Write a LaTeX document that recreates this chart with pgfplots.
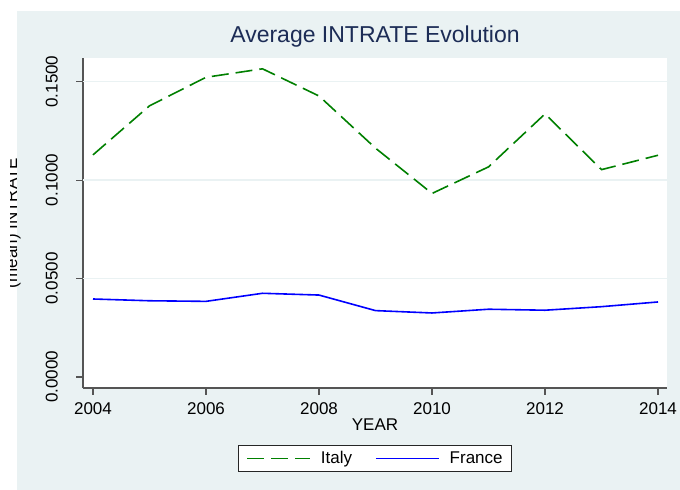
\documentclass[border=0pt]{standalone}
\usepackage{pgfplots}
\pgfplotsset{compat=1.18}
\usepackage{fontspec}
\setmainfont{Liberation Sans}

\definecolor{panel}{RGB}{234,242,243}
\definecolor{titlenavy}{RGB}{28,44,86}
\definecolor{axgray}{RGB}{85,85,85}
\definecolor{stgreen}{RGB}{0,128,0}
\definecolor{stblue}{RGB}{0,0,255}

\newcommand{\med}{\fontsize{17bp}{20bp}\selectfont}

\begin{document}
\begin{tikzpicture}[x=1bp,y=1bp]
\useasboundingbox (0,0) rectangle (680,490);
\fill[white] (0,0) rectangle (680,490);
\fill[panel] (17,0) rectangle (680,479);
\begin{axis}[
    at={(83bp,102bp)}, anchor=south west,
    scale only axis, width=584bp, height=330bp,
    xmin=2003.823, xmax=2014.159,
    ymin=-0.0056, ymax=0.1620,
    axis background/.style={fill=white},
    axis x line*=bottom, axis y line*=left,
    axis line style={axgray, line width=1.1bp, -},
    tick align=outside,
    major tick length=7bp,
    tick style={axgray, line width=1.1bp},
    xtick={2004,2006,2008,2010,2012,2014},
    ytick={0,0.05,0.10,0.15},
    extra y ticks={0.05,0.10,0.15},
    extra y tick labels={},
    extra y tick style={grid=major, major tick length=0pt},
    grid style={panel, line width=1.2bp},
    /pgf/number format/assume math mode=true,
    ticklabel style={font=\med, text=black},
    xticklabel style={/pgf/number format/1000 sep={}, anchor=north, inner sep=0bp, yshift=-7bp},
    yticklabel style={/pgf/number format/.cd, fixed, fixed zerofill, precision=4,
        /tikz/.cd, rotate=90, anchor=south, inner sep=0bp},
    yticklabel shift=18bp,
    title={Average INTRATE Evolution},
    title style={at={(axis description cs:0.5,1.0288)}, anchor=base,
        font=\fontsize{23bp}{27bp}\selectfont, text=titlenavy},
    xlabel={YEAR},
    xlabel style={at={(axis description cs:0.5,-0.1273)}, anchor=base, font=\med},
    legend columns=2,
    legend style={at={(axis description cs:0.5,-0.2136)}, anchor=center,
        draw=black!85, line width=0.9bp, fill=white, font=\med,
        inner xsep=8bp, inner ysep=5bp,
        nodes={inner sep=1bp},
        /tikz/every odd column/.append style={column sep=9bp},
        /tikz/every even column/.append style={column sep=22bp}},
    legend image code/.code={\draw[#1] (0bp,0bp) -- (63bp,0bp);},
]
\addplot[stgreen, line width=1.6bp, dash pattern=on 17bp off 7bp] coordinates {
    (2004,0.1128) (2005,0.1377) (2006,0.1522) (2007,0.1565) (2008,0.1427)
    (2009,0.1162) (2010,0.0932) (2011,0.1067) (2012,0.1336) (2013,0.1053)
    (2014,0.1126)
};
\addlegendentry{Italy}
\addplot[stblue, line width=1.6bp] coordinates {
    (2004,0.0396) (2005,0.0387) (2006,0.0384) (2007,0.0425) (2008,0.0416)
    (2009,0.0337) (2010,0.0325) (2011,0.0344) (2012,0.0339) (2013,0.0357)
    (2014,0.0381)
};
\addlegendentry{France}
\end{axis}
% y axis title, clipped on its left as in the original export
\begin{scope}
\clip (10,0) rectangle (40,490);
\node[rotate=90, anchor=base, font=\med, inner sep=0bp] at (17,267) {(mean) INTRATE};
\end{scope}
\end{tikzpicture}
\end{document}
